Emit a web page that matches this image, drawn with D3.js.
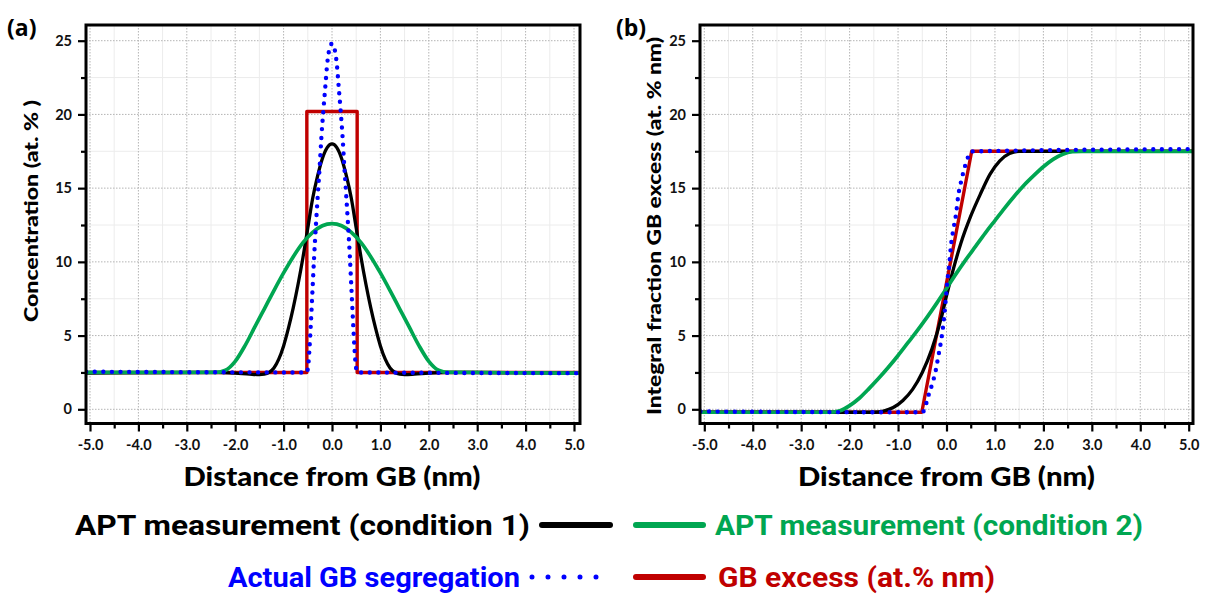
<!DOCTYPE html>
<html>
<head>
<meta charset="utf-8">
<script src="https://cdn.jsdelivr.net/npm/d3@7"></script>
<style>
  body { margin: 0; background: #fff; }
  svg { display: block; font-family: Lato, "Open Sans", sans-serif; }
</style>
</head>
<body>
<svg id="chart" width="1209" height="595"></svg>
<script>
// tick values shared by both panels
const xTicks = [-5, -4, -3, -2, -1, 0, 1, 2, 3, 4, 5];
const xMinorTicks = [-4.5, -3.5, -2.5, -1.5, -0.5, 0.5, 1.5, 2.5, 3.5, 4.5];
const yTicks = [0, 5, 10, 15, 20, 25];
const yMinorTicks = [2.5, 7.5, 12.5, 17.5, 22.5];

// (a) concentration profiles, [distance nm, at.%]
const concGbExcess = [[-5.08, 2.5], [-0.52, 2.5], [-0.52, 20.2], [0.52, 20.2], [0.52, 2.5], [5.12, 2.5]];
const concApt1 = [[-5.08, 2.45], [-2.4, 2.5], [-2.0, 2.45], [-1.7, 2.38], [-1.5, 2.35], [-1.4, 2.38], [-1.3, 2.5],
  [-1.2, 2.8], [-1.1, 3.4], [-1.0, 4.3], [-0.9, 5.5], [-0.8, 6.9], [-0.7, 8.5], [-0.6, 10.3], [-0.5, 12.3],
  [-0.4, 14.3], [-0.3, 15.8], [-0.2, 17.0], [-0.1, 17.75], [0, 18.0], [0.1, 17.75], [0.2, 17.0], [0.3, 15.8],
  [0.4, 14.3], [0.5, 12.3], [0.6, 10.3], [0.7, 8.5], [0.8, 6.9], [0.9, 5.5], [1.0, 4.3], [1.1, 3.4], [1.2, 2.8],
  [1.3, 2.5], [1.4, 2.38], [1.5, 2.35], [1.7, 2.38], [2.0, 2.45], [2.4, 2.5], [5.12, 2.45]];
const concApt2 = [[-5.08, 2.5], [-2.6, 2.5], [-2.4, 2.5], [-2.2, 2.65], [-2.0, 3.25], [-1.8, 4.3], [-1.6, 5.55],
  [-1.4, 6.8], [-1.2, 8.05], [-1.0, 9.25], [-0.8, 10.35], [-0.6, 11.3], [-0.4, 12.0], [-0.2, 12.45], [0, 12.6],
  [0.2, 12.45], [0.4, 12.0], [0.6, 11.3], [0.8, 10.35], [1.0, 9.25], [1.2, 8.05], [1.4, 6.8], [1.6, 5.55],
  [1.8, 4.3], [2.0, 3.25], [2.2, 2.65], [2.4, 2.5], [2.6, 2.5], [5.12, 2.45]];
const concActual = [[-5.08, 2.55], [-0.52, 2.5], [-0.49, 3.0], [-0.45, 5.0], [-0.41, 7.6], [-0.37, 10.3],
  [-0.33, 12.6], [-0.29, 14.7], [-0.25, 16.7], [-0.22, 18.4], [-0.18, 20.2], [-0.14, 21.8], [-0.1, 23.4],
  [-0.04, 24.6], [0, 24.8], [0.04, 24.6], [0.1, 23.4], [0.14, 21.8], [0.18, 20.2], [0.22, 18.4], [0.25, 16.7],
  [0.29, 14.7], [0.33, 12.6], [0.37, 10.3], [0.41, 7.6], [0.45, 5.0], [0.49, 3.0], [0.52, 2.5], [5.12, 2.45]];

// (b) integral fraction GB excess, [distance nm, at.% nm]
const excGbExcess = [[-5.08, -0.2], [-0.51, -0.2], [0.52, 17.5], [5.12, 17.5]];
const excApt1 = [[-5.08, -0.2], [-1.5, -0.2], [-1.3, -0.12], [-1.1, 0.12], [-0.9, 0.6], [-0.7, 1.35],
  [-0.5, 2.5], [-0.3, 4.1], [-0.1, 6.3], [0, 7.7], [0.1, 9.0], [0.3, 11.3], [0.5, 13.1], [0.7, 14.6],
  [0.9, 15.95], [1.1, 16.85], [1.3, 17.35], [1.5, 17.5], [1.7, 17.5], [5.12, 17.5]];
const excApt2 = [[-5.08, -0.2], [-2.4, -0.2], [-2.2, -0.1], [-2.0, 0.25], [-1.8, 0.75], [-1.6, 1.4],
  [-1.4, 2.1], [-1.2, 2.85], [-1.0, 3.65], [-0.8, 4.5], [-0.6, 5.35], [-0.4, 6.25], [-0.2, 7.2], [0, 8.2],
  [0.2, 9.2], [0.4, 10.15], [0.6, 11.05], [0.8, 11.95], [1.0, 12.8], [1.2, 13.65], [1.4, 14.45], [1.6, 15.2],
  [1.8, 15.85], [2.0, 16.45], [2.2, 16.95], [2.4, 17.3], [2.6, 17.47], [2.8, 17.5], [5.12, 17.5]];
const excActual = [[-5.08, -0.15], [-0.5, -0.2], [-0.46, -0.05], [-0.38, 0.86], [-0.29, 1.77], [-0.22, 2.67],
  [-0.17, 3.57], [-0.12, 4.48], [-0.08, 5.38], [-0.04, 6.52], [-0.01, 7.64], [0.02, 8.78], [0.06, 9.91],
  [0.09, 11.04], [0.14, 12.17], [0.2, 13.31], [0.24, 14.43], [0.31, 15.57], [0.38, 16.47], [0.45, 17.15],
  [0.52, 17.49], [5.12, 17.65]];

const legendItems = [
  { label: "APT measurement (condition 1)", color: "#000000", dotted: false },
  { label: "APT measurement (condition 2)", color: "#00a651", dotted: false },
  { label: "Actual GB segregation", color: "#0000ff", dotted: true },
  { label: "GB excess (at.% nm)", color: "#c00000", dotted: false }
];

const colors = { apt1: "#000000", apt2: "#00a651", actual: "#0000ff", excess: "#c00000" };

const svg = d3.select("#chart");

function drawPanel(cfg) {
  const top = 25, bottom = 423.5;
  const x = d3.scaleLinear().domain([-5, 5]).range([cfg.xStart, cfg.xEnd]);
  const y = d3.scaleLinear().domain([0, 25]).range([409.3, 40.7]);
  const g = svg.append("g");

  // minor grid
  g.append("g").selectAll("line").data(xMinorTicks).join("line")
    .attr("x1", d => x(d)).attr("x2", d => x(d))
    .attr("y1", top).attr("y2", bottom)
    .attr("stroke", "#ececec").attr("stroke-width", 1);
  g.append("g").selectAll("line").data(yMinorTicks).join("line")
    .attr("x1", cfg.left).attr("x2", cfg.right)
    .attr("y1", d => y(d)).attr("y2", d => y(d))
    .attr("stroke", "#ececec").attr("stroke-width", 1);

  // major grid (dotted)
  g.append("g").selectAll("line").data(xTicks).join("line")
    .attr("x1", d => x(d)).attr("x2", d => x(d))
    .attr("y1", top).attr("y2", bottom)
    .attr("stroke", "#b4b4b4").attr("stroke-width", 1).attr("stroke-dasharray", "1.5,1.5");
  g.append("g").selectAll("line").data(yTicks).join("line")
    .attr("x1", cfg.left).attr("x2", cfg.right)
    .attr("y1", d => y(d)).attr("y2", d => y(d))
    .attr("stroke", "#b4b4b4").attr("stroke-width", 1).attr("stroke-dasharray", "1.5,1.5");

  const smooth = d3.line().x(d => x(d[0])).y(d => y(d[1])).curve(d3.curveMonotoneX);
  const straight = d3.line().x(d => x(d[0])).y(d => y(d[1]));

  const clip = "clip-" + cfg.name;
  svg.append("clipPath").attr("id", clip).append("rect")
    .attr("x", cfg.left).attr("y", top).attr("width", cfg.right - cfg.left).attr("height", bottom - top);
  const lines = g.append("g").attr("clip-path", `url(#${clip})`);

  lines.append("path").attr("d", straight(cfg.excess))
    .attr("fill", "none").attr("stroke", colors.excess).attr("stroke-width", 3.4).attr("stroke-linejoin", "round");
  lines.append("path").attr("d", smooth(cfg.apt1))
    .attr("fill", "none").attr("stroke", colors.apt1).attr("stroke-width", 3.3);
  lines.append("path").attr("d", smooth(cfg.apt2))
    .attr("fill", "none").attr("stroke", colors.apt2).attr("stroke-width", 3.7);
  lines.append("path").attr("d", smooth(cfg.actual))
    .attr("fill", "none").attr("stroke", colors.actual).attr("stroke-width", 4.4)
    .attr("stroke-linecap", "round").attr("stroke-dasharray", "0,8.6");

  // frame
  g.append("rect")
    .attr("x", cfg.left).attr("y", top).attr("width", cfg.right - cfg.left).attr("height", bottom - top)
    .attr("fill", "none").attr("stroke", "#000").attr("stroke-width", 3);

  // axes
  const xAxis = g.append("g").attr("transform", `translate(0,${bottom})`)
    .call(d3.axisBottom(x).tickValues(xTicks).tickSize(8).tickPadding(8).tickFormat(d => d.toFixed(1)));
  const xMinor = g.append("g").attr("transform", `translate(0,${bottom})`)
    .call(d3.axisBottom(x).tickValues(xMinorTicks).tickSize(5).tickFormat(""));
  const yAxis = g.append("g").attr("transform", `translate(${cfg.left},0)`)
    .call(d3.axisLeft(y).tickValues(yTicks).tickSize(8).tickPadding(6));
  const yMinor = g.append("g").attr("transform", `translate(${cfg.left},0)`)
    .call(d3.axisLeft(y).tickValues(yMinorTicks).tickSize(5).tickFormat(""));
  [xAxis, xMinor, yAxis, yMinor].forEach(a => {
    a.select(".domain").remove();
    a.selectAll(".tick line").attr("stroke", "#000").attr("stroke-width", 2.2);
    a.selectAll("text").attr("font-family", "Lato").attr("font-weight", 700)
      .attr("font-size", 14.5).attr("fill", "#111");
  });

  // titles
  g.append("text").attr("x", (cfg.xStart + cfg.xEnd) / 2).attr("y", 486)
    .attr("text-anchor", "middle").attr("font-size", 26).attr("font-weight", 900)
    .attr("textLength", 297).attr("lengthAdjust", "spacingAndGlyphs")
    .text("Distance from GB (nm)");
  g.append("text")
    .attr("transform", `translate(${cfg.yTitleX},${cfg.yTitleY}) rotate(-90)`)
    .attr("text-anchor", "middle").attr("font-size", 19).attr("font-weight", 900)
    .attr("textLength", cfg.yTitleLen).attr("lengthAdjust", "spacingAndGlyphs")
    .text(cfg.yTitle);
  g.append("text").attr("x", cfg.tagX).attr("y", 36)
    .attr("font-family", "Open Sans").attr("font-size", 23).attr("font-weight", 700)
    .text(cfg.tag);
}

drawPanel({
  name: "a", left: 86, right: 580, xStart: 90, xEnd: 574,
  excess: concGbExcess, apt1: concApt1, apt2: concApt2, actual: concActual,
  yTitle: "Concentration (at. % )", yTitleX: 38, yTitleY: 211, yTitleLen: 222, tag: "(a)", tagX: 7
});
drawPanel({
  name: "b", left: 700, right: 1193, xStart: 704.3, xEnd: 1188.7,
  excess: excGbExcess, apt1: excApt1, apt2: excApt2, actual: excActual,
  yTitle: "Integral fraction GB excess (at. % nm)", yTitleX: 661, yTitleY: 226, yTitleLen: 378, tag: "(b)", tagX: 616
});

// legend: two rows, label | swatch || swatch | label
const legend = svg.append("g").attr("font-family", "Roboto").attr("font-weight", 700).attr("font-size", 28);
const rows = [
  { left: legendItems[0], right: legendItems[1], y: 535, lw: 455, rw: 428, lEnd: 530, rStart: 715 },
  { left: legendItems[2], right: legendItems[3], y: 587, lw: 292, rw: 277, lEnd: 520, rStart: 718 }
];
rows.forEach(r => {
  legend.append("text").attr("x", r.lEnd).attr("y", r.y).attr("text-anchor", "end")
    .attr("fill", r.left.color).attr("textLength", r.lw).attr("lengthAdjust", "spacingAndGlyphs")
    .text(r.left.label);
  legend.append("text").attr("x", r.rStart).attr("y", r.y)
    .attr("fill", r.right.color).attr("textLength", r.rw).attr("lengthAdjust", "spacingAndGlyphs")
    .text(r.right.label);
  const ly = r.y - 10;
  const ls = legend.append("line").attr("x1", r.lEnd + 12).attr("x2", 610).attr("y1", ly).attr("y2", ly)
    .attr("stroke", r.left.color).attr("stroke-linecap", "round");
  if (r.left.dotted) ls.attr("stroke-width", 5).attr("stroke-dasharray", "0,16");
  else ls.attr("stroke-width", 6);
  legend.append("line").attr("x1", 636).attr("x2", 703).attr("y1", ly).attr("y2", ly)
    .attr("stroke", r.right.color).attr("stroke-width", 6).attr("stroke-linecap", "round");
});
</script>
</body>
</html>
